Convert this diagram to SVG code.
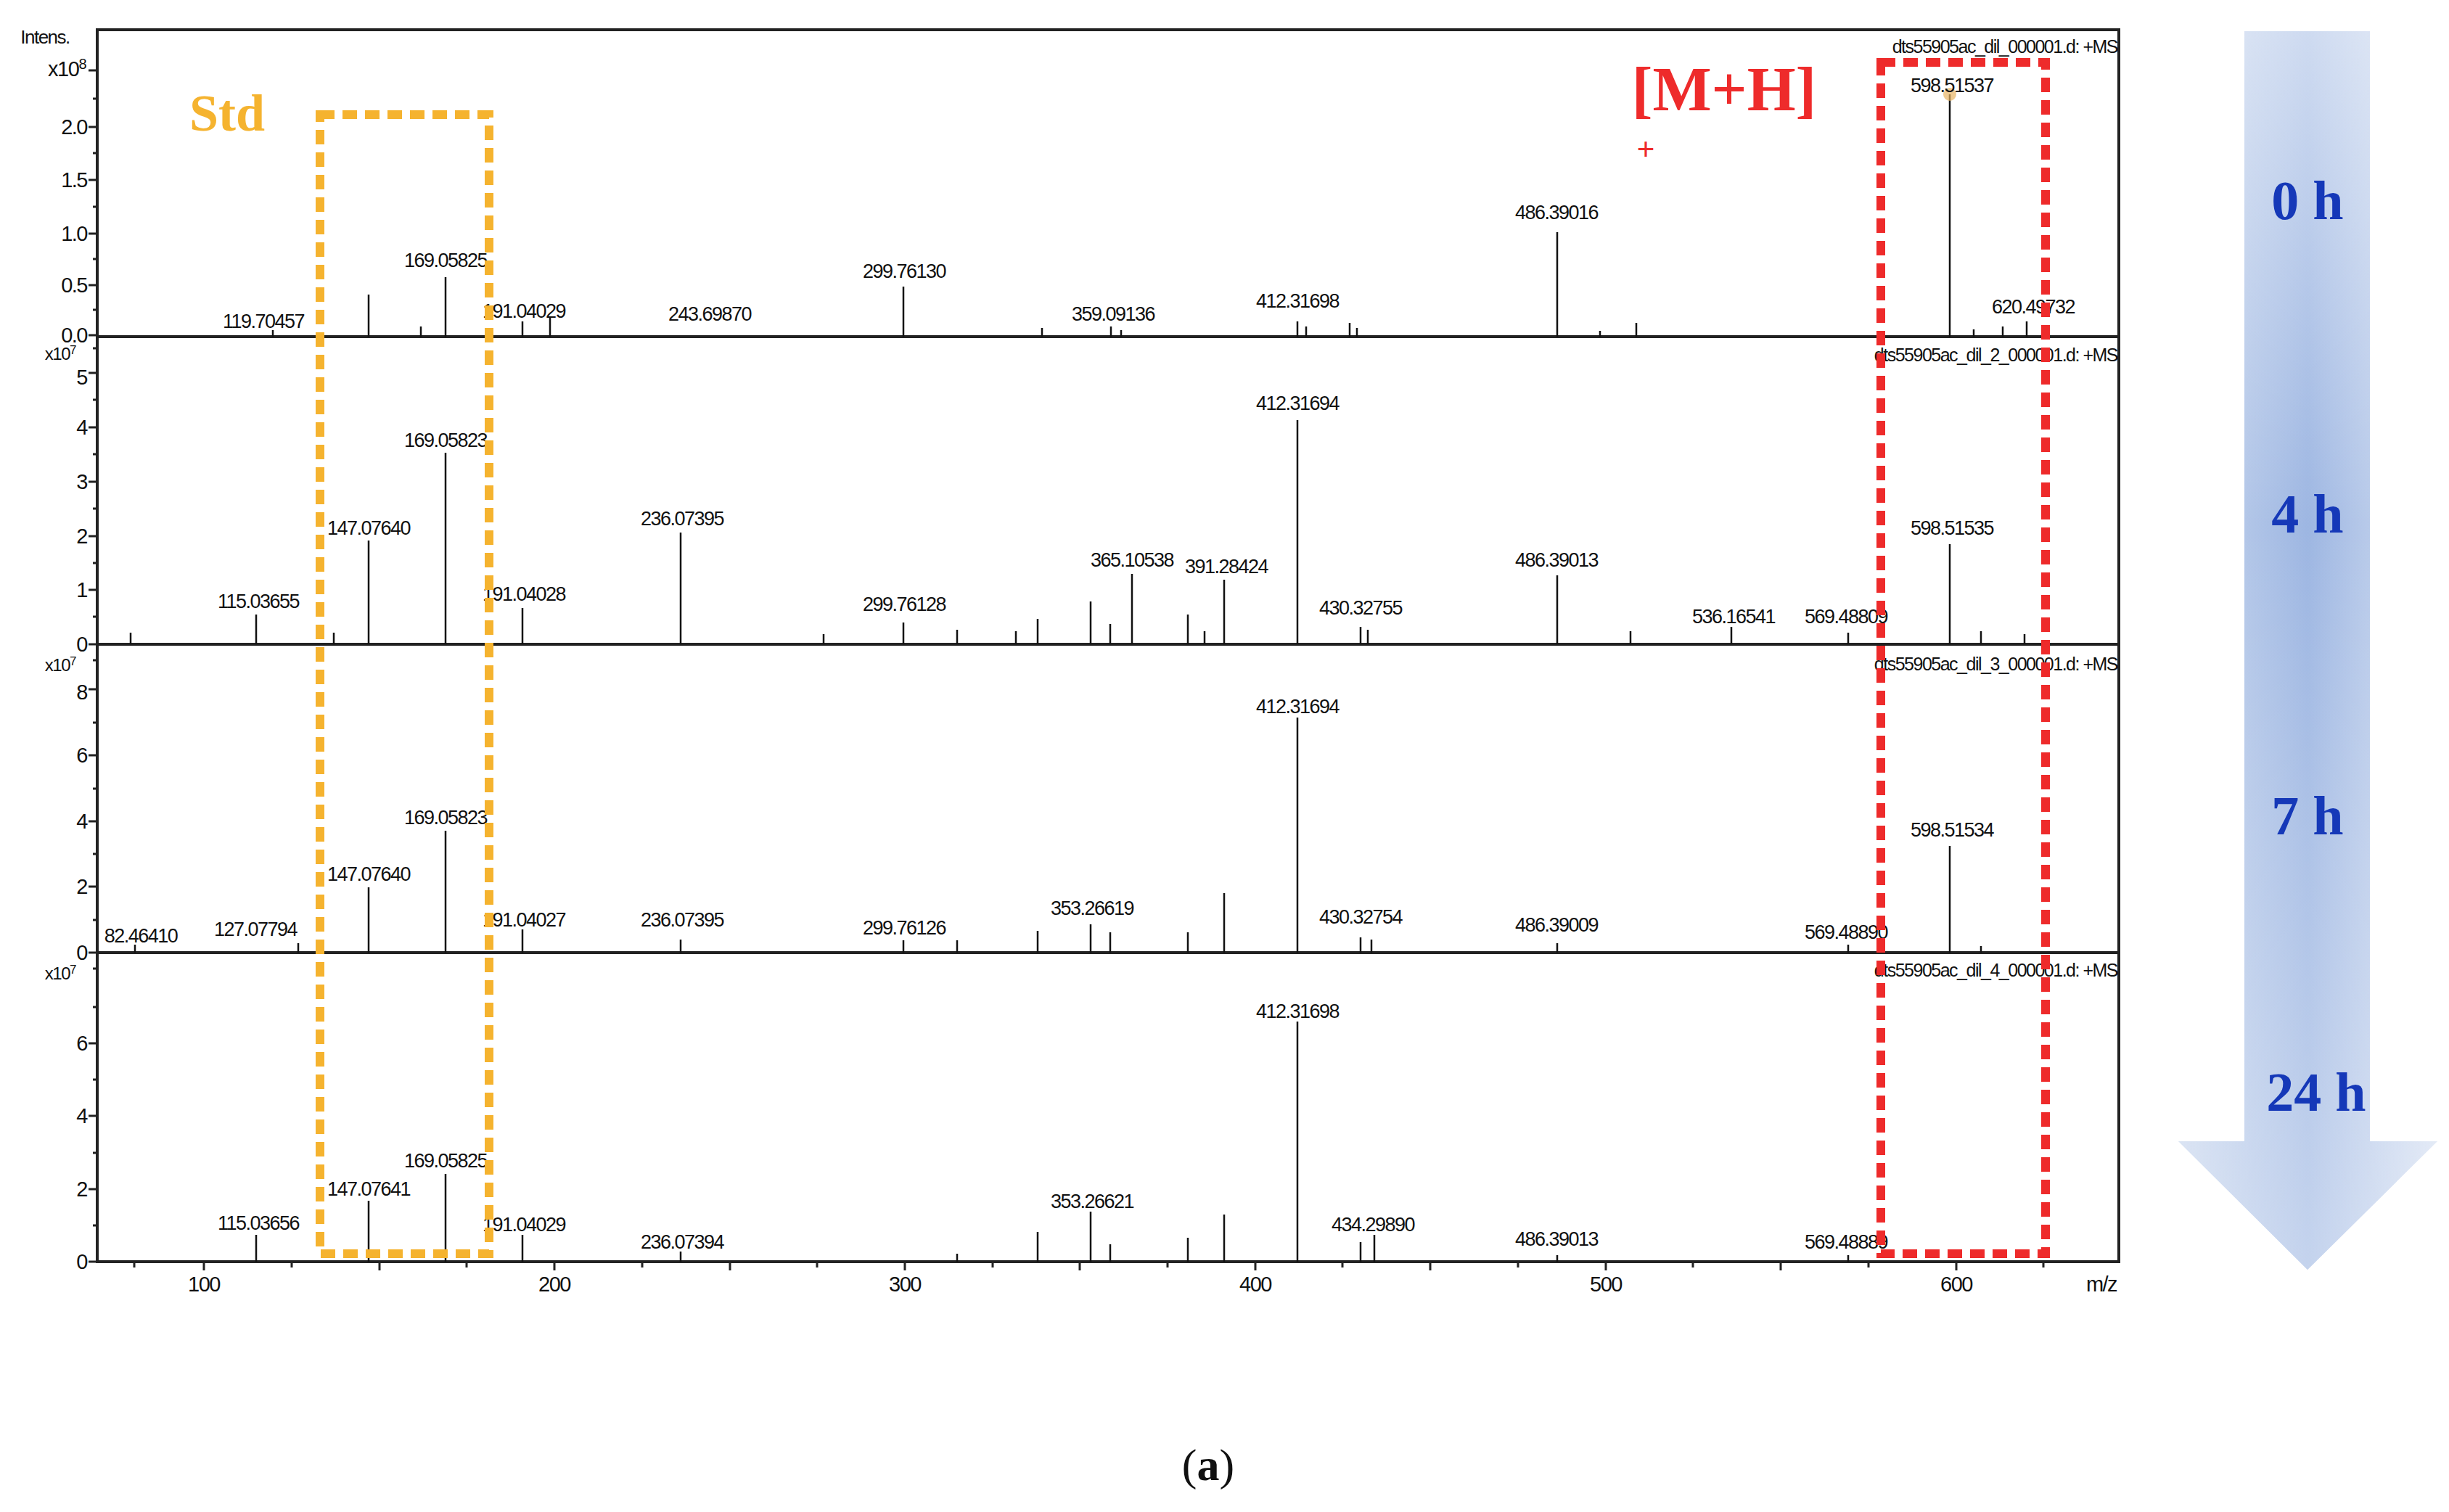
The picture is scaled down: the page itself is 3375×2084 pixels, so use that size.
<svg xmlns="http://www.w3.org/2000/svg" width="3375" height="2084" viewBox="0 0 3375 2084">
<defs>
<style>
.lb{font-family:"Liberation Sans",Arial,sans-serif;font-size:27px;letter-spacing:-1.5px;fill:#111;text-anchor:middle}
.ax{font-family:"Liberation Sans",Arial,sans-serif;font-size:29px;letter-spacing:-1.5px;fill:#111;text-anchor:end}
.axb{font-family:"Liberation Sans",Arial,sans-serif;font-size:29px;letter-spacing:-1.5px;fill:#111;text-anchor:middle}
.hd{font-family:"Liberation Sans",Arial,sans-serif;font-size:25px;letter-spacing:-1.5px;fill:#111;text-anchor:end}
.pk{stroke:#111;stroke-width:2.5;fill:none}
.fr{stroke:#222;stroke-width:4;fill:none}
.tm{font-family:"Liberation Serif","Times New Roman",serif;font-weight:bold;font-size:76px;fill:#1538b8;text-anchor:middle}
</style>
<linearGradient id="ag" x1="0" y1="0" x2="1" y2="0">
<stop offset="0" stop-color="#c9d7ee"/><stop offset="0.5" stop-color="#9db6e2"/><stop offset="1" stop-color="#d6e0f2"/>
</linearGradient>
<linearGradient id="av" x1="0" y1="0" x2="0" y2="1">
<stop offset="0" stop-color="#fff" stop-opacity="0.5"/><stop offset="0.4" stop-color="#fff" stop-opacity="0"/><stop offset="1" stop-color="#fff" stop-opacity="0.4"/>
</linearGradient>
</defs>
<rect width="3375" height="2084" fill="#fff"/>

<g id="arrow">
<path d="M3093,43 H3266 V1573 H3359 L3180,1750 L3002,1573 H3093 Z" fill="url(#ag)"/>
<path d="M3093,43 H3266 V1573 H3359 L3180,1750 L3002,1573 H3093 Z" fill="url(#av)"/>
<text class="tm" x="3180" y="302">0 h</text>
<text class="tm" x="3180" y="734">4 h</text>
<text class="tm" x="3180" y="1150">7 h</text>
<text class="tm" x="3192" y="1531">24 h</text>
</g>

<g id="frame">
<rect class="fr" x="134" y="41" width="2786" height="1698"/>
<line class="fr" x1="134" y1="464" x2="2920" y2="464" stroke-width="5"/>
<line class="fr" x1="134" y1="888" x2="2920" y2="888" stroke-width="5"/>
<line class="fr" x1="134" y1="1313" x2="2920" y2="1313" stroke-width="5"/>
<text x="62" y="60" class="ax" style="text-anchor:middle;font-size:26px">Intens.</text>
</g>

<g id="yaxes" stroke="#222" stroke-width="3">
<path d="M134,462h-12M134,393h-12M134,322h-12M134,248h-12M134,175h-12M134,97h-12M134,427h-6M134,357h-6M134,285h-6M134,211h-6M134,136h-6
M134,888h-12M134,813h-12M134,739h-12M134,664h-12M134,589h-12M134,514h-12M134,850h-6M134,776h-6M134,701h-6M134,626h-6M134,551h-6M134,480h-6
M134,1313h-12M134,1222h-12M134,1132h-12M134,1041h-12M134,950h-12M134,1268h-6M134,1177h-6M134,1087h-6M134,996h-6M134,910h-6
M134,1739h-12M134,1639h-12M134,1538h-12M134,1438h-12M134,1689h-6M134,1589h-6M134,1488h-6M134,1388h-6M134,1335h-6"/>
</g>
<g id="ylabels">
<text class="ax" x="120" y="472">0.0</text><text class="ax" x="120" y="403">0.5</text><text class="ax" x="120" y="332">1.0</text><text class="ax" x="120" y="258">1.5</text><text class="ax" x="120" y="185">2.0</text><text class="ax" x="118" y="105">x10<tspan dy="-10" font-size="20">8</tspan></text>
<text class="ax" x="120" y="898">0</text><text class="ax" x="120" y="823">1</text><text class="ax" x="120" y="749">2</text><text class="ax" x="120" y="674">3</text><text class="ax" x="120" y="599">4</text><text class="ax" x="120" y="530">5</text><text class="ax" x="104" y="496" style="font-size:24px">x10<tspan dy="-8" font-size="17">7</tspan></text>
<text class="ax" x="120" y="1323">0</text><text class="ax" x="120" y="1232">2</text><text class="ax" x="120" y="1142">4</text><text class="ax" x="120" y="1051">6</text><text class="ax" x="120" y="964">8</text><text class="ax" x="104" y="925" style="font-size:24px">x10<tspan dy="-8" font-size="17">7</tspan></text>
<text class="ax" x="120" y="1749">0</text><text class="ax" x="120" y="1649">2</text><text class="ax" x="120" y="1548">4</text><text class="ax" x="120" y="1448">6</text><text class="ax" x="104" y="1350" style="font-size:24px">x10<tspan dy="-8" font-size="17">7</tspan></text>
</g>

<g id="xaxis">
<path stroke="#222" stroke-width="3" d="M281,1739v12M523,1739v12M764,1739v12M1006,1739v12M1247,1739v12M1488,1739v12M1730,1739v12M1971,1739v12M2213,1739v12M2454,1739v12M2696,1739v12M185,1739v8M402,1739v8M643,1739v8M885,1739v8M1126,1739v8M1368,1739v8M1609,1739v8M1850,1739v8M2092,1739v8M2333,1739v8M2575,1739v8M2816,1739v8"/>
<text class="axb" x="281" y="1780">100</text><text class="axb" x="764" y="1780">200</text><text class="axb" x="1247" y="1780">300</text><text class="axb" x="1730" y="1780">400</text><text class="axb" x="2213" y="1780">500</text><text class="axb" x="2696" y="1780">600</text><text class="axb" x="2896" y="1780">m/z</text>
</g>

<g id="peaks">
<path class="pk" d="M2687,464V130M2146,464V320M1245,464V395M614,464V382M508,464V406M720,464V443M758,464V436M1788,464V443M1800,464V450M1860,464V445M1870,464V452M2793,464V443M2255,464V445M1531,464V450M1545,464V455M1436,464V452M376,464V455M580,464V450M2205,464V456M2720,464V454M2760,464V450"/>
<path class="pk" d="M1788,888V579M614,888V624M508,888V745M938,888V734M2146,888V793M2687,888V750M1560,888V791M1687,888V799M1503,888V829M353,888V847M720,888V838M2386,888V864M1637,888V847M1430,888V853M1245,888V858M1875,888V864M1885,888V868M1319,888V868M1400,888V870M1530,888V860M1660,888V870M2247,888V870M2547,888V872M2730,888V870M2790,888V874M180,888V872M460,888V872M1135,888V874"/>
<path class="pk" d="M1788,1313V989M614,1313V1145M508,1313V1223M2687,1313V1166M1687,1313V1231M1503,1313V1274M1430,1313V1283M720,1313V1281M1637,1313V1285M1875,1313V1292M1890,1313V1295M938,1313V1295M1245,1313V1296M1319,1313V1296M1530,1313V1285M2146,1313V1300M2547,1313V1302M411,1313V1300M186,1313V1302M2730,1313V1304"/>
<path class="pk" d="M1788,1739V1408M614,1739V1618M508,1739V1655M1503,1739V1670M1687,1739V1674M1430,1739V1698M353,1739V1702M720,1739V1702M1637,1739V1706M1894,1739V1702M1875,1739V1712M938,1739V1725M1530,1739V1715M2146,1739V1730M2547,1739V1730M1319,1739V1728"/>
<circle cx="2687" cy="130" r="9" fill="#e8b463" opacity="0.7"/>
</g>

<g id="labels">
<text class="hd" x="2918" y="73">dts55905ac_dil_000001.d: +MS</text>
<text class="lb" x="363" y="452">119.70457</text><text class="lb" x="614" y="368">169.05825</text><text class="lb" x="722" y="438">191.04029</text><text class="lb" x="978" y="442">243.69870</text><text class="lb" x="1246" y="383">299.76130</text><text class="lb" x="1534" y="442">359.09136</text><text class="lb" x="1788" y="424">412.31698</text><text class="lb" x="2145" y="302">486.39016</text><text class="lb" x="2690" y="127">598.51537</text><text class="lb" x="2802" y="432">620.49732</text>

<text class="hd" x="2918" y="498">dts55905ac_dil_2_000001.d: +MS</text>
<text class="lb" x="356" y="838">115.03655</text><text class="lb" x="508" y="737">147.07640</text><text class="lb" x="614" y="616">169.05823</text><text class="lb" x="722" y="828">191.04028</text><text class="lb" x="940" y="724">236.07395</text><text class="lb" x="1246" y="842">299.76128</text><text class="lb" x="1560" y="781">365.10538</text><text class="lb" x="1690" y="790">391.28424</text><text class="lb" x="1788" y="565">412.31694</text><text class="lb" x="1875" y="847">430.32755</text><text class="lb" x="2145" y="781">486.39013</text><text class="lb" x="2389" y="859">536.16541</text><text class="lb" x="2544" y="859">569.48809</text><text class="lb" x="2690" y="737">598.51535</text>

<text class="hd" x="2918" y="924">dts55905ac_dil_3_000001.d: +MS</text>
<text class="lb" x="194" y="1299">82.46410</text><text class="lb" x="352" y="1290">127.07794</text><text class="lb" x="508" y="1214">147.07640</text><text class="lb" x="614" y="1136">169.05823</text><text class="lb" x="722" y="1277">191.04027</text><text class="lb" x="940" y="1277">236.07395</text><text class="lb" x="1246" y="1288">299.76126</text><text class="lb" x="1505" y="1261">353.26619</text><text class="lb" x="1788" y="983">412.31694</text><text class="lb" x="1875" y="1273">430.32754</text><text class="lb" x="2145" y="1284">486.39009</text><text class="lb" x="2544" y="1294">569.48890</text><text class="lb" x="2690" y="1153">598.51534</text>

<text class="hd" x="2918" y="1346">dts55905ac_dil_4_000001.d: +MS</text>
<text class="lb" x="356" y="1695">115.03656</text><text class="lb" x="508" y="1648">147.07641</text><text class="lb" x="614" y="1609">169.05825</text><text class="lb" x="722" y="1697">191.04029</text><text class="lb" x="940" y="1721">236.07394</text><text class="lb" x="1505" y="1665">353.26621</text><text class="lb" x="1788" y="1403">412.31698</text><text class="lb" x="1892" y="1697">434.29890</text><text class="lb" x="2145" y="1717">486.39013</text><text class="lb" x="2544" y="1721">569.48889</text>
</g>

<g id="std">
<rect x="441" y="158" width="233" height="1570" fill="none" stroke="#f5b32f" stroke-width="12" stroke-dasharray="20 11"/>
<text x="313" y="180" font-family="Liberation Serif,serif" font-weight="bold" font-size="72" fill="#f5b32f" text-anchor="middle">Std</text>
</g>
<g id="mh">
<rect x="2592" y="86" width="227" height="1642" fill="none" stroke="#ee2b2b" stroke-width="12" stroke-dasharray="20 11"/>
<text x="2376" y="152" font-family="Liberation Serif,serif" font-weight="bold" font-size="86" fill="#ee2b2b" text-anchor="middle">[M+H]</text>
<text x="2268" y="220" font-family="Liberation Serif,serif" font-weight="bold" font-size="44" fill="#ee2b2b" text-anchor="middle">+</text>
</g>

<text x="1665" y="2040" font-family="Liberation Serif,serif" font-size="62" fill="#111" text-anchor="middle">(<tspan font-weight="bold">a</tspan>)</text>
</svg>
